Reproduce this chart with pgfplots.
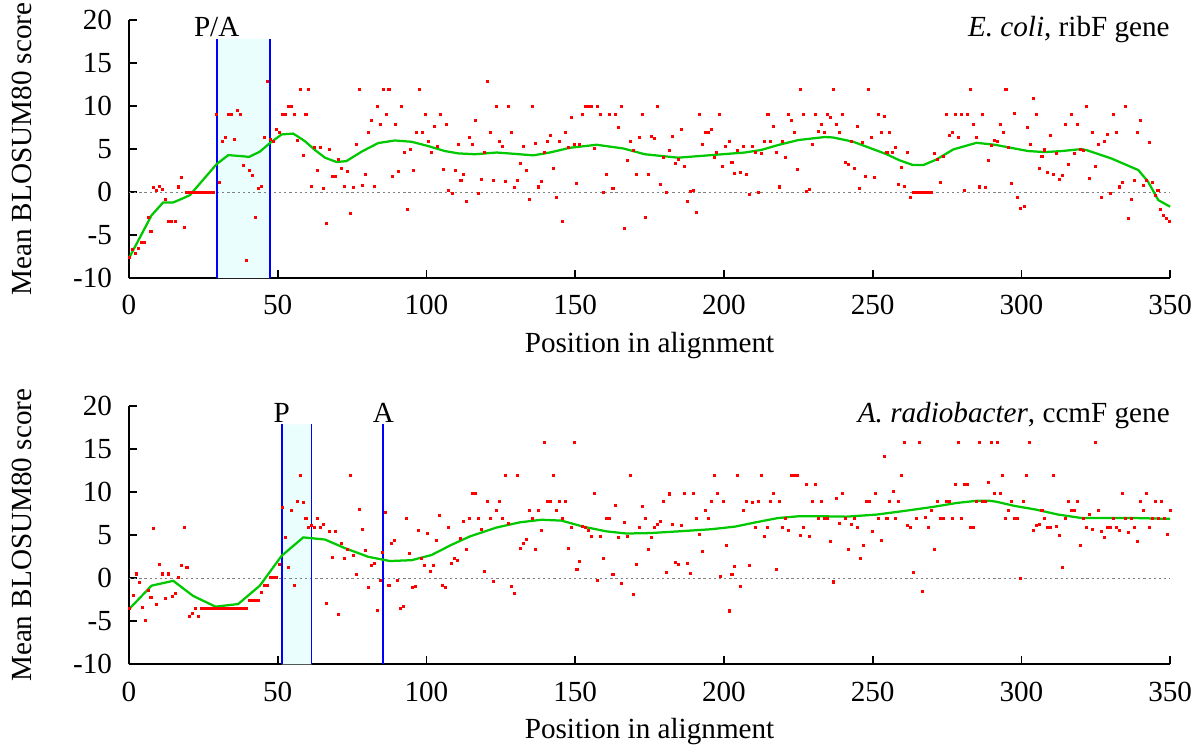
\documentclass[12pt,border=0pt]{standalone}
\usepackage{fontspec}
\setmainfont[Scale=1.08]{Liberation Serif}
\usepackage{pgfplots}
\pgfplotsset{compat=1.18}

\definecolor{shade}{RGB}{235,254,254}
\definecolor{curve}{RGB}{0,200,0}

\pgfplotsset{panel/.style={
  scale only axis, width=462.7pt, height=114.7pt,
  xmin=0, xmax=350, ymin=-10, ymax=20,
  axis x line=bottom, axis y line=left,
  axis line style={-, line width=0.75pt},
  xtick={0,50,...,350}, ytick={-10,-5,...,20},
  tick align=inside, major tick length=3.5pt,
  tick style={line width=0.75pt, black},
  /pgf/number format/assume math mode=true,
  clip=false,
  xlabel={Position in alignment}, ylabel={Mean BLOSUM80 score},
  ylabel style={at={(axis description cs:-0.103,0.5)}, anchor=center},
  xlabel style={at={(axis description cs:0.5,0)}, anchor=base, yshift=-33pt},
  yticklabel style={xshift=-3pt},
  xticklabel style={yshift=-3.2pt},
  dots/.style={only marks, mark=square*, mark size=0.45pt, red},
}}

\begin{document}
\begin{tikzpicture}
\useasboundingbox (-57.3pt,-210.7pt) rectangle (477.3pt,123.6pt);

% ---- top panel: E. coli ribF
\begin{axis}[panel]
  \addplot[fill=shade, draw=none] coordinates {(29.5,-10) (47.4,-10) (47.4,17.8) (29.5,17.8)} \closedcycle;
  \addplot[gray, line width=0.5pt, dash pattern=on 1pt off 1.3pt] coordinates {(0,0) (350,0)};
  \addplot[blue, line width=0.8pt] coordinates {(29.5,-10) (29.5,17.8)};
  \addplot[blue, line width=0.8pt] coordinates {(47.4,-10) (47.4,17.8)};
  \addplot[curve, line width=1pt] coordinates {
    (0.3,-7.5)(7.6,-2.7)(11.5,-1.2)(14.9,-1.2)(18.3,-0.7)(20.5,-0.35)(29.5,3.26)
    (33.4,4.3)(40.4,4.1)(44,4.7)(47.4,5.7)(51.3,6.7)(55.2,6.8)(57.5,6.3)(59.2,5.9)
    (62.5,4.9)(65.9,4.0)(69.8,3.5)(73.1,3.6)(78.2,4.7)(83.8,5.7)(89.4,6.0)(95,5.85)
    (100.6,5.35)(106.2,4.77)(110.7,4.5)(116.3,4.4)(123.6,4.6)(129.5,4.45)(135.9,4.27)
    (141.5,4.6)(148.2,5.15)(157.2,5.5)(166.2,5.07)(173.4,4.4)(184.6,4.0)(195.8,4.3)
    (207,4.6)(212.6,4.9)(218.2,5.47)(225,6.05)(233.9,6.4)(236.7,6.35)(243.5,5.85)
    (254.7,4.4)(259,3.7)(263.6,3.14)(267,3.14)(271.5,3.8)(277.1,4.96)(284.9,5.73)
    (291.1,5.5)(302.3,4.77)(307.9,4.65)(313.5,4.77)(320.2,5.0)(321.9,4.88)(330.3,3.9)
    (339.3,2.56)(342.6,1.2)(346,-0.93)(350,-1.7)};
  \addplot[dots] coordinates {
    (0.3,-7.6)(1.3,-6.7)(2.3,-7.1)(3.3,-6.5)(4.3,-5.9)(5.3,-5.8)(6.4,-2.9)(7.4,-4.6)
    (8.4,0.5)(9.4,0.2)(10.4,0.7)(11.4,0.3)(12.4,-0.85)(13.4,-3.45)(14.4,-3.45)(15.5,-3.45)
    (16.5,0.6)(17.5,1.7)(18.5,-4.1)(19.5,0)(20.5,0)(21.5,0)(22.5,0)(23.5,0)(24.5,0)
    (25.5,0)(26.5,0)(27.5,0)(28.5,0)(29.5,9)(30.5,1.1)(31.5,5.9)(32.4,6.4)(33.5,9)
    (34.5,9)(35.5,6.1)(36.4,9.5)(37.4,9)(38.4,3.1)(39.4,-7.9)(40.5,2.5)(41.5,1.9)
    (42.5,-3.0)(43.5,0.4)(44.5,0.7)(45.5,6.4)(46.5,12.9)(47.5,6.1)(48.5,5.9)(49.5,7.3)
    (50.5,6.9)(51.5,9)(52.5,9)(53.6,9.9)(54.6,9.9)(55.6,9)(56.6,6.0)(57.5,11.9)
    (58.5,4.3)(59.5,9)(60.5,11.9)(61.5,0.7)(62.5,5.2)(63.5,2.5)(64.5,5.2)(65.5,0.4)
    (66.5,-3.6)(67.5,5.0)(68.5,1.8)(69.5,1.8)(70.5,3.8)(71.5,2.7)(72.5,0.7)(73.5,2.4)
    (74.5,-2.5)(75.5,0.5)(76.5,5.5)(77.5,11.9)(78.5,0.8)(79.5,2.0)(80.5,6.9)(81.5,8.3)
    (82.4,0.7)(83.4,9.9)(84.4,7.9)(85.4,11.9)(86.4,9)(87.4,11.9)(88.5,1.8)(89.5,7.9)
    (90.5,2.4)(91.5,9.9)(92.5,4.6)(93.5,-2.0)(94.5,5.0)(95.5,2.5)(96.5,6.9)(97.6,11.9)
    (98.6,6.9)(99.6,9)(100.6,5.9)(101.6,4.65)(102.6,7.6)(103.6,5.35)(104.6,9)(105.6,2.6)
    (106.6,7.9)(107.5,0.2)(108.6,-0.15)(109.6,2.5)(110.6,5.5)(111.6,1.4)(112.6,2.0)
    (113.6,-1.1)(114.6,6.4)(115.6,5.5)(116.5,8.3)(117.5,-0.15)(118.5,1.5)(119.5,4.6)
    (120.6,12.9)(121.6,6.9)(122.6,1.4)(123.6,9.9)(124.6,5.9)(125.6,5.35)(126.6,1.2)
    (127.6,9.9)(128.6,6.9)(129.6,0.5)(130.6,1.3)(131.7,3.3)(132.7,5.35)(133.7,2.5)
    (134.6,-0.85)(135.6,9.9)(136.6,5.7)(137.6,0.6)(138.6,1.2)(139.6,4.6)(140.6,5.9)
    (141.6,6.6)(142.6,2.7)(143.6,-0.65)(144.6,5.9)(145.6,-3.45)(146.7,6.9)(147.7,5.2)
    (148.7,8.7)(149.7,5.5)(150.5,1.0)(151.6,5.5)(152.6,9)(153.6,9.9)(154.6,9.9)(155.6,9.9)
    (156.6,5.1)(157.6,9.9)(158.6,9)(159.6,0)(160.6,2.0)(161.6,9)(162.7,0.4)(163.7,9)
    (164.7,7.5)(165.7,9.9)(166.6,-4.2)(167.6,3.7)(168.6,5.9)(169.6,4.8)(170.6,2.0)
    (171.6,6.4)(172.6,9)(173.6,-2.9)(174.6,2.0)(175.6,6.5)(176.6,6.2)(177.6,9.9)(178.6,0.9)
    (179.6,4.0)(180.6,0)(181.6,4.8)(182.6,6.5)(183.6,3.3)(184.7,3.8)(185.7,7.3)(186.7,3.0)
    (187.7,-1.1)(188.7,0.1)(189.7,0.2)(190.7,-2.4)(191.7,9)(192.7,5.5)(193.7,6.9)(194.7,6.9)
    (195.7,7.3)(196.7,4.0)(197.6,4.6)(198.6,9)(199.6,3.0)(200.6,5.35)(201.7,5.9)(202.7,3.4)
    (203.7,2.2)(204.7,4.8)(205.7,2.3)(206.7,5.35)(207.7,2.0)(208.7,-0.3)(209.7,5.35)
    (210.7,4.6)(211.7,0)(212.7,4.5)(213.7,5.9)(214.8,9)(215.8,5.9)(216.8,7.6)(217.8,4.6)
    (218.7,0.6)(219.7,5.9)(220.7,4.0)(221.7,9)(222.7,8.3)(223.7,6.9)(224.7,2.6)(225.8,11.9)
    (226.8,9)(227.8,0.1)(228.8,0.3)(229.8,5.5)(230.8,9)(231.8,7.0)(232.8,7.9)(233.7,6.9)
    (234.7,9)(235.7,8.7)(236.8,11.9)(237.8,7.9)(238.8,6.9)(239.8,9)(240.8,3.4)(241.8,3.2)
    (242.8,5.9)(243.8,2.8)(244.8,7.6)(245.7,0.4)(246.7,5.8)(247.7,1.8)(248.7,11.9)(249.7,6.4)
    (250.7,1.7)(251.8,9)(252.8,6.9)(253.8,8.8)(254.8,4.6)(255.8,6.9)(256.8,4.65)(257.8,5.2)
    (258.8,0.9)(259.8,2.9)(260.8,0.7)(261.8,4.65)(262.7,-0.6)(263.7,0)(264.7,0)(265.7,0)
    (266.8,0)(267.8,0)(268.8,0)(269.8,0)(270.8,4.5)(271.8,3.8)(272.8,1.1)(273.8,4.2)
    (274.7,9)(275.7,6.6)(276.7,6.9)(277.7,9)(278.8,6.4)(279.8,9)(280.8,0.2)(281.8,9)
    (282.8,11.9)(283.8,7.9)(284.8,6.4)(285.8,0.6)(286.8,9)(287.9,0.5)(288.9,3.7)(289.9,5.4)
    (290.9,6.05)(291.9,5.9)(292.8,7.9)(293.8,6.9)(294.8,11.9)(295.8,5.2)(296.8,1.0)
    (297.8,9.1)(298.8,-0.65)(299.8,-1.9)(300.9,-1.65)(301.9,7.5)(302.9,5.5)(303.9,10.9)
    (304.9,9)(305.9,2.75)(306.9,4.1)(307.9,4.9)(308.9,2.3)(309.9,6.6)(310.9,2.0)(311.9,4.5)
    (312.8,1.5)(313.8,1.9)(314.8,7.9)(315.8,3.2)(316.9,9)(317.9,4.5)(318.9,7.9)(319.9,5.0)
    (320.9,4.8)(321.9,9.9)(322.9,1.6)(323.9,6.9)(324.9,3.0)(326.0,5.5)(327.0,-0.6)
    (328.0,5.9)(329.0,6.7)(330.0,-0.2)(331.0,9)(332.0,6.9)(332.9,0.6)(333.9,1.1)(335.0,9.9)
    (336.0,-3.1)(337.0,-0.8)(338.0,1.4)(339.0,6.9)(340.0,8.3)(341.0,0.8)(342.0,1.4)
    (342.9,5.8)(343.9,1.1)(344.9,-0.4)(345.9,0.2)(346.9,-2.05)(347.9,-2.7)(348.9,-3.1)
    (349.9,-3.45)};
  \node[anchor=base east, inner sep=0pt] at (rel axis cs:1,1) [yshift=-7.3pt] {\textit{E. coli}, ribF gene};
  \node[anchor=base, inner sep=0pt] at (axis cs:29.5,18.1) {P/A};
\end{axis}

% ---- bottom panel: A. radiobacter ccmF
\begin{axis}[panel, at={(0pt,-171.6pt)}]
  \addplot[fill=shade, draw=none] coordinates {(51.4,-10) (61.4,-10) (61.4,17.9) (51.4,17.9)} \closedcycle;
  \addplot[gray, line width=0.5pt, dash pattern=on 1pt off 1.3pt] coordinates {(0,0) (350,0)};
  \addplot[blue, line width=0.8pt] coordinates {(51.4,-10) (51.4,17.9)};
  \addplot[blue, line width=0.8pt] coordinates {(61.4,-10) (61.4,17.9)};
  \addplot[blue, line width=0.8pt] coordinates {(85.5,-10) (85.5,17.9)};
  \addplot[curve, line width=1pt] coordinates {
    (0.3,-3.5)(7.6,-0.86)(14.9,-0.3)(21.6,-2.06)(29.1,-3.3)(36.7,-3.0)(44,-0.86)
    (51.3,2.6)(58.6,4.75)(65.9,4.5)(72.6,3.5)(80.4,2.5)(87.7,2.0)(95,2.1)(101.7,2.7)
    (108.5,3.9)(114.6,4.86)(123.6,5.9)(131.4,6.5)(138.7,6.8)(145.4,6.7)(152.7,6.0)
    (160.5,5.45)(167.2,5.2)(175.1,5.25)(184.7,5.45)(195.8,5.7)(203.7,6.0)(210.7,6.5)
    (218.2,7.0)(224.9,7.2)(233.9,7.2)(241.2,7.16)(251.3,7.4)(261.4,7.86)(270.4,8.3)
    (278.2,8.75)(284.9,9.0)(289.4,9.0)(291.5,8.9)(297.8,8.4)(304.6,8.0)(312.4,7.4)
    (320.2,7.0)(328.1,7.0)(338.2,7.0)(350,6.9)};
  \addplot[dots] coordinates {
    (0.3,-3.5)(1.5,-2.0)(2.4,0.5)(3.4,-0.5)(4.4,-3.4)(5.4,-4.9)(6.4,-1.4)(7.4,-2.2)
    (8.4,5.8)(9.4,-3.0)(10.4,1.6)(11.4,0.5)(12.4,-2.3)(13.4,0.5)(14.5,-2.1)(15.5,-1.8)
    (16.5,0.15)(17.5,1.5)(18.5,5.95)(19.5,1.3)(20.5,-4.4)(21.5,-4.1)(22.5,-3.5)(23.5,-4.4)
    (24.5,-3.5)(25.5,-3.5)(26.5,-3.5)(27.5,-3.5)(28.5,-3.5)(29.5,-3.5)(30.5,-3.5)
    (31.5,-3.5)(32.5,-3.5)(33.5,-3.5)(34.5,-3.5)(35.5,-3.5)(36.5,-3.5)(37.5,-3.5)
    (38.5,-3.5)(39.5,-3.5)(40.5,-2.6)(41.5,-2.6)(42.5,-2.6)(43.5,-2.6)(44.5,-1.7)
    (45.5,-0.8)(46.5,-0.8)(47.5,0.1)(48.5,0.1)(49.5,0.1)(50.5,1.6)(51.5,8.2)(52.5,4.75)
    (53.6,1.2)(54.6,7.9)(55.6,-0.8)(56.6,8.9)(57.5,11.9)(58.5,8.8)(59.5,6.9)(60.5,5.95)
    (61.5,6.1)(62.5,5.95)(63.5,6.9)(64.5,5.95)(65.5,6.2)(66.5,-2.9)(67.5,5.45)(68.5,2.45)
    (69.5,5.45)(70.5,-4.2)(71.5,4.0)(72.5,2.26)(73.5,3.35)(74.5,11.9)(75.5,2.6)(76.5,0.4)
    (77.5,8.0)(78.5,5.7)(79.5,3.2)(80.5,-1.1)(81.5,1.5)(82.5,1.7)(83.4,-3.7)(84.4,-0.3)
    (85.3,3.0)(86.3,7.7)(87.4,-0.8)(88.4,4.0)(89.4,4.36)(90.4,-0.2)(91.4,-3.5)(92.4,-3.3)
    (93.4,6.9)(94.4,2.9)(95.4,-1.05)(96.4,-0.9)(97.4,5.5)(98.4,2.3)(99.4,1.5)(100.4,5.25)
    (101.4,0.74)(102.4,1.5)(103.5,4.4)(104.5,7.3)(105.5,-0.8)(106.5,-1.05)(107.4,5.95)
    (108.4,1.75)(109.4,2.3)(110.4,2.1)(111.4,4.6)(112.4,6.6)(113.4,3.35)(114.4,6.9)
    (115.4,9.9)(116.5,9.9)(117.5,6.9)(118.5,5.7)(119.6,0.74)(120.6,8.9)(121.6,6.9)
    (122.6,-0.35)(123.6,7.9)(124.6,8.9)(125.6,6.9)(126.6,11.9)(127.6,6.4)(128.6,-0.9)
    (129.6,-1.8)(130.6,11.9)(131.7,3.5)(132.7,4.1)(133.7,4.5)(134.6,7.9)(135.6,6.9)
    (136.6,3.4)(137.6,7.9)(138.6,5.5)(139.6,15.8)(140.6,8.9)(141.6,8.9)(142.6,11.9)
    (143.6,7.9)(144.6,8.9)(145.6,6.9)(146.7,8.9)(147.7,3.5)(148.7,5.9)(149.7,15.8)
    (150.6,1.0)(151.6,1.95)(152.6,6.0)(153.6,5.9)(154.6,5.5)(155.6,4.9)(156.6,9.9)
    (157.6,-0.2)(158.6,4.9)(159.6,2.3)(160.6,6.9)(161.6,6.9)(162.7,0.4)(163.7,8.5)
    (164.7,4.75)(165.7,-0.66)(166.6,6.5)(167.6,4.9)(168.6,11.9)(169.6,-1.9)(170.6,1.56)
    (171.6,5.95)(172.6,8.3)(173.6,6.9)(174.6,3.35)(175.6,4.75)(176.6,5.9)(177.6,6.2)
    (178.6,6.6)(179.6,8.9)(180.6,0.66)(181.6,9.8)(182.6,6.3)(183.6,1.8)(184.6,1.56)
    (185.7,6.1)(186.7,9.9)(187.7,1.75)(188.7,0.6)(189.7,9.9)(190.7,6.9)(191.7,5.1)
    (192.7,3.15)(193.7,7.9)(194.7,6.9)(195.7,8.9)(196.7,11.9)(197.7,9.9)(198.7,0.16)
    (199.7,8.9)(200.7,3.85)(201.7,-3.8)(202.7,0.4)(203.7,1.36)(204.7,11.9)(205.7,-0.9)
    (206.7,7.9)(207.7,8.9)(208.7,1.5)(209.7,8.8)(210.7,5.95)(211.7,8.9)(212.7,11.9)
    (213.7,4.9)(214.7,5.95)(215.8,8.9)(216.8,9.9)(217.8,1.0)(218.7,8.9)(219.7,5.95)
    (220.7,6.9)(221.7,5.5)(222.7,11.9)(223.7,11.9)(224.7,11.9)(225.8,5.0)(226.8,5.95)
    (227.8,10.9)(228.8,4.9)(229.8,8.9)(230.8,10.9)(231.8,6.9)(232.8,8.9)(233.7,6.9)
    (234.7,6.9)(235.7,4.24)(236.8,-0.43)(237.8,9.3)(238.8,6.4)(239.8,9.9)(240.8,6.9)
    (241.8,3.35)(242.8,6.2)(243.8,6.9)(244.8,5.95)(245.8,2.3)(246.8,3.8)(247.8,8.9)
    (248.8,8.9)(249.8,5.45)(250.8,9.9)(251.8,6.9)(252.8,4.36)(253.8,14.2)(254.8,6.9)
    (255.8,8.9)(256.9,10.1)(257.7,6.9)(258.7,8.9)(259.7,11.9)(260.8,15.8)(261.8,6.1)
    (262.8,5.95)(263.8,0.66)(264.8,6.9)(265.8,15.8)(266.8,-1.5)(267.8,7.1)(268.8,5.95)
    (269.8,7.9)(270.8,3.35)(271.9,8.9)(272.9,6.9)(273.9,6.9)(274.9,8.9)(275.9,8.9)
    (276.9,6.9)(277.9,10.9)(278.9,15.8)(279.9,6.9)(280.9,10.9)(281.9,10.9)(282.9,5.95)
    (283.9,5.95)(284.9,8.9)(285.9,15.8)(286.9,8.9)(287.9,8.9)(288.9,11.1)(289.9,15.8)
    (290.9,9.9)(291.9,15.8)(292.8,9.9)(293.7,11.9)(294.7,6.9)(295.7,7.9)(296.8,8.9)
    (297.8,6.9)(298.8,6.9)(299.8,0)(300.8,8.9)(301.8,11.9)(302.8,15.8)(303.9,5.5)
    (304.9,6.1)(305.9,6.2)(306.9,7.9)(307.9,6.9)(308.9,5.95)(309.9,5.95)(310.9,11.9)
    (311.9,6.0)(312.8,5.0)(313.8,1.25)(314.8,6.9)(315.8,8.9)(316.9,7.9)(317.9,7.9)
    (318.9,8.9)(319.9,3.8)(320.9,6.9)(321.9,5.95)(322.9,7.4)(323.9,5.7)(324.9,15.8)
    (326.0,7.9)(327.0,5.45)(328.0,4.75)(329.0,5.95)(330.0,5.95)(331.0,6.9)(332.0,5.95)
    (333.0,5.5)(334.0,9.9)(335.0,6.9)(336.0,5.3)(337.0,6.9)(338.0,5.95)(339.1,4.24)
    (340.1,8.9)(341.1,7.9)(342.1,9.9)(343.1,5.95)(344.1,6.9)(345.1,8.9)(346.1,6.9)
    (347.1,8.9)(348.1,6.9)(349.2,5.1)(350,7.9)};
  \node[anchor=base east, inner sep=0pt] at (rel axis cs:1,1) [yshift=-7.3pt] {\textit{A. radiobacter}, ccmF gene};
  \node[anchor=base, inner sep=0pt] at (axis cs:51.4,18.1) {P};
  \node[anchor=base, inner sep=0pt] at (axis cs:85.5,18.1) {A};
\end{axis}
\end{tikzpicture}
\end{document}
